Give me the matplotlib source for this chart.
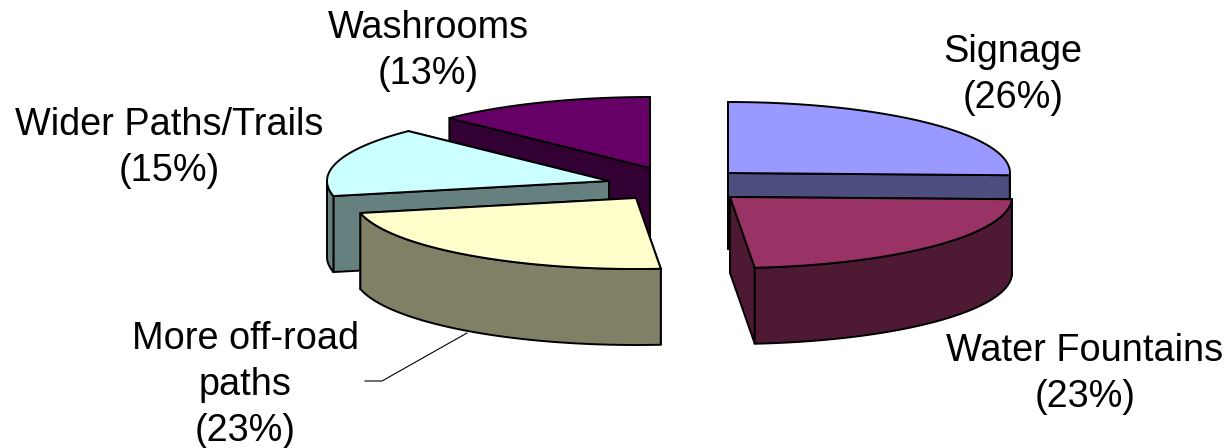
import numpy as np
import matplotlib
matplotlib.use("Agg")
import matplotlib.pyplot as plt
from matplotlib.patches import Polygon

labels = ["Signage\n(26%)", "Water Fountains\n(23%)", "More off-road\npaths\n(23%)",
          "Wider Paths/Trails\n(15%)", "Washrooms\n(13%)"]
# slice sizes as measured on the picture (labels are rounded)
shares = [25.5, 23.1, 23.0, 15.8, 12.6]
top_colors = ["#9999FF", "#993366", "#FFFFCC", "#CCFFFF", "#660066"]
side_colors = ["#4D4D80", "#4D1933", "#808066", "#668080", "#330033"]

# apex of each exploded slice and label anchor, in pixels
centers = [(728, 173), (730, 197), (636, 198), (609, 181), (650, 168)]
label_pos = [(1013, 75), (1085, 374), (245, 385), (169, 148), (428, 51)]
RX, RY, DEPTH = 282, 71, 76


def pt(c, t, dy=0):
    t = np.radians(t)
    return np.column_stack([c[0] + RX * np.cos(t), c[1] - RY * np.sin(t) + dy])


def draw_slice(ax, c, t0, t1, top, side):
    # t0 > t1, going clockwise from t0
    ts = np.linspace(t0, t1, 80)
    arc = pt(c, ts)
    apex = np.array(c, dtype=float)
    lw = 1.4
    down = np.array([0, DEPTH])
    # the two flat cut faces, the one further back first
    for p in sorted((arc[0], arc[-1]), key=lambda q: q[1]):
        quad = [apex, p, p + down, apex + down]
        ax.add_patch(Polygon(quad, fc=side, ec="black", lw=lw))
    # outer wall, only the part facing front
    front = ts[np.sin(np.radians(ts)) <= 0]
    if len(front) > 1:
        a = pt(c, front)
        wall = np.vstack([a, a[::-1] + down])
        ax.add_patch(Polygon(wall, fc=side, ec="black", lw=lw))
    ax.add_patch(Polygon(np.vstack([apex, arc]), fc=top, ec="black", lw=lw))


fig = plt.figure(figsize=(12.27, 4.48), dpi=100)
ax = fig.add_axes([0, 0, 1, 1])
ax.set_xlim(0, 1227)
ax.set_ylim(448, 0)
ax.axis("off")

angles = 90 - np.cumsum([0] + shares) * 3.6
for i in [4, 3, 2, 0, 1]:
    draw_slice(ax, centers[i], angles[i], angles[i + 1], top_colors[i], side_colors[i])

# leader line for the off-road label
ax.plot([365, 382, 467], [381, 381, 333], color="black", lw=0.8)

for text, pos in zip(labels, label_pos):
    ax.text(pos[0], pos[1], text, ha="center", va="center", fontsize=27.3,
            family="Liberation Sans", linespacing=1.34, color="black")

fig.savefig("out.png", dpi=100)
